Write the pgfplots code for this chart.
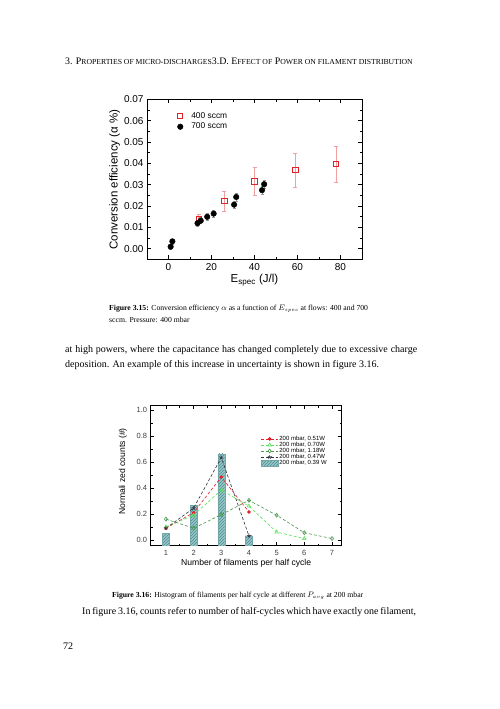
\documentclass[border=0pt]{standalone}
\usepackage{fontspec}
\setmainfont{Liberation Serif}
\setsansfont{Liberation Sans}
\usepackage{pgfplots}
\pgfplotsset{compat=1.18}
\usetikzlibrary{patterns}

\definecolor{cred}{RGB}{226,32,40}
\definecolor{cerr}{RGB}{240,160,160}
\definecolor{cgerr}{RGB}{150,150,150}
\definecolor{clime}{RGB}{90,225,90}
\definecolor{cdkgreen}{RGB}{70,150,75}
\definecolor{cdark}{RGB}{45,50,62}
\definecolor{cbar}{RGB}{150,198,200}
\definecolor{chatch}{RGB}{80,142,146}

\newcommand\smc[1]{{\fontsize{7.7}{9}\selectfont #1}}

\pgfplotsset{
  origin/.style={
    scale only axis,
    tick align=inside,
    xtick pos=both, ytick pos=both,
    axis line style={line width=0.8pt},
    every tick/.style={black, line width=0.7pt},
    /pgf/number format/assume math mode=true,
  },
  markleg/.style={legend image code/.code={%
    \path[draw=none, fill=none] (0,0) -- (13pt,0);
    \draw[##1, only marks] plot coordinates {(3pt,0pt)};}},
}

\begin{document}
\begin{tikzpicture}[x=1pt,y=1pt]
\path[fill=white] (0,0) rectangle (499,709);

% running head
\node[anchor=base west, inner sep=0] at (65,709-64.5)
  {\fontsize{9.9}{11}\selectfont 3. P\smc{ROPERTIES OF MICRO-DISCHARGES}3.D. E\smc{FFECT OF} P\smc{OWER ON FILAMENT DISTRIBUTION}};

% ---------- Figure 3.15 ----------
\begin{axis}[origin,
  at={(147pt,449.5pt)}, anchor=south west,
  width=215pt, height=160pt,
  xmin=-10, xmax=90, ymin=-0.005, ymax=0.07,
  xtick={0,20,...,80}, minor x tick num=1,
  ytick={0,0.01,...,0.07}, minor y tick num=1,
  major tick length=4pt, minor tick length=2.5pt,
  scaled y ticks=false,
  yticklabel style={/pgf/number format/.cd, fixed, fixed zerofill, precision=2},
  ticklabel style={font=\sffamily\fontsize{10}{11}\selectfont},
  label style={font=\sffamily\fontsize{11.5}{12}\selectfont},
  xlabel={E\textsubscript{spec} (J/l)},
  ylabel={Conversion efficiency (α \%)},
  xlabel style={at={(axis description cs:0.5,-0.144)}, anchor=base},
  ylabel style={at={(axis description cs:-0.15,0.5)}, anchor=center},
  legend style={at={(axis description cs:0.126,0.94)}, anchor=north west,
    draw=none, fill=none, font=\sffamily\fontsize{8.4}{9}\selectfont,
    row sep=1.4pt, nodes={inner sep=1pt}},
  legend cell align=left,
]
\addplot[only marks, mark=square, mark size=2.6pt, cred, line width=0.9pt,
  mark options={fill=white}, markleg,
  error bars/.cd, y dir=both, y explicit,
  error bar style={cerr, line width=0.6pt}, error mark options={cerr, rotate=90, mark size=2pt}]
  coordinates {
  (14,0.0140) +- (0,0.0022)
  (26,0.0223) +- (0,0.0045)
  (40,0.0316) +- (0,0.0066)
  (59,0.0368) +- (0,0.0078)
  (78,0.0396) +- (0,0.0085)
};
\addlegendentry{400 sccm}
\addplot[only marks, mark=*, mark size=2.8pt, black, markleg,
  error bars/.cd, y dir=both, y explicit,
  error bar style={cgerr, line width=0.6pt}, error mark options={cgerr, rotate=90, mark size=1.5pt}]
  coordinates {
  (1.0,0.0010) +- (0,0.0012)
  (1.8,0.0035) +- (0,0.0012)
  (13.5,0.0120) +- (0,0.0014)
  (15.0,0.0132) +- (0,0.0014)
  (18.0,0.0150) +- (0,0.0015)
  (21.0,0.0165) +- (0,0.0015)
  (30.5,0.0207) +- (0,0.0016)
  (31.5,0.0243) +- (0,0.0018)
  (43.5,0.0275) +- (0,0.0018)
  (44.5,0.0303) +- (0,0.0020)
};
\addlegendentry{700 sccm}
\end{axis}

\node[anchor=base west, inner sep=0] at (109,709-310.5)
  {\fontsize{7.7}{9}\selectfont \textbf{Figure 3.15:} Conversion efficiency $\alpha$ as a function of $E_{spec}$ at flows: 400 and 700};
\node[anchor=base west, inner sep=0] at (109,709-323)
  {\fontsize{7.7}{9}\selectfont sccm. Pressure: 400 mbar};

\node[anchor=base west, inner sep=0] at (65,709-353)
  {\fontsize{10}{12}\selectfont\hbox to 352pt{at high powers, where the capacitance has changed completely due to excessive charge}};
\node[anchor=base west, inner sep=0] at (65,709-368)
  {\fontsize{10}{12}\selectfont deposition. An example of this increase in uncertainty is shown in figure 3.16.};

% ---------- Figure 3.16 ----------
\begin{axis}[origin,
  at={(150.7pt,163.3pt)}, anchor=south west,
  width=191pt, height=140pt,
  xmin=0.45, xmax=7.35, ymin=-0.045, ymax=1.035,
  xtick={1,...,7}, minor x tick num=1,
  ytick={0,0.2,...,1.0}, minor y tick num=1,
  major tick length=3.5pt, minor tick length=2pt,
  yticklabel style={/pgf/number format/.cd, fixed, fixed zerofill, precision=1},
  ticklabel style={font=\sffamily\fontsize{7.5}{8}\selectfont, text=black!75},
  xticklabel style={yshift=-1.5pt},
  label style={font=\sffamily\fontsize{8.6}{9}\selectfont},
  xlabel={Number of filaments per half cycle},
  ylabel={Normali zed counts (\#)},
  xlabel style={at={(axis description cs:0.5,-0.127)}, anchor=center},
  ylabel style={at={(axis description cs:-0.145,0.53)}, anchor=center},
  legend style={at={(axis description cs:0.56,0.805)}, anchor=north west,
    draw=none, fill=none, font=\sffamily\fontsize{6}{6}\selectfont,
    row sep=-1.4pt, nodes={inner sep=0.8pt}},
  legend cell align=left,
  barst/.style={fill=cbar, draw=chatch!80, line width=0.3pt,
    postaction={pattern=north east lines, pattern color=chatch}, forget plot},
]
\addplot[barst] coordinates {(0.875,-0.045) (0.875,0.050) (1.125,0.050) (1.125,-0.045)} -- cycle;
\addplot[barst] coordinates {(1.875,-0.045) (1.875,0.265) (2.125,0.265) (2.125,-0.045)} -- cycle;
\addplot[barst] coordinates {(2.875,-0.045) (2.875,0.665) (3.125,0.665) (3.125,-0.045)} -- cycle;
\addplot[barst] coordinates {(3.875,-0.045) (3.875,0.030) (4.125,0.030) (4.125,-0.045)} -- cycle;

\addplot[cred, densely dashed, line width=0.6pt, mark=*, mark size=1.5pt, mark options={solid}]
  coordinates {(1,0.090) (2,0.210) (3,0.485) (4,0.215)};
\addlegendentry{200 mbar, 0.51W}
\addplot[clime, densely dashed, line width=0.6pt, mark=triangle, mark size=2pt, mark options={solid, fill=white}]
  coordinates {(1,0.100) (2,0.190) (3,0.385) (4,0.260) (5,0.060) (6,0.010)};
\addlegendentry{200 mbar, 0.70W}
\addplot[cdkgreen, densely dashed, line width=0.6pt, mark=diamond, mark size=2pt, mark options={solid, fill=white}]
  coordinates {(1,0.160) (2,0.090) (3,0.195) (4,0.305) (5,0.190) (6,0.055) (7,0.010)};
\addlegendentry{200 mbar, 1.18W}
\addplot[cdark, densely dashed, line width=0.6pt, mark=star, mark size=2pt, mark options={solid}]
  coordinates {(1,0.090) (2,0.245) (3,0.635) (4,0.030)};
\addlegendentry{200 mbar, 0.47W}
\addlegendimage{area legend, fill=cbar, draw=chatch!80, postaction={pattern=north east lines, pattern color=chatch}}
\addlegendentry{200 mbar, 0.39 W}
\end{axis}

\node[anchor=base west, inner sep=0] at (112,709-598)
  {\fontsize{7.7}{9}\selectfont \textbf{Figure 3.16:} Histogram of filaments per half cycle at different $P_{avg}$ at 200 mbar};
\node[anchor=base west, inner sep=0] at (82,709-615)
  {\fontsize{10}{12}\selectfont\hbox to 334pt{In figure 3.16, counts refer to number of half-cycles which have exactly one filament,}};
\node[anchor=base west, inner sep=0] at (63,709-650)
  {\fontsize{10}{12}\selectfont 72};
\end{tikzpicture}
\end{document}
